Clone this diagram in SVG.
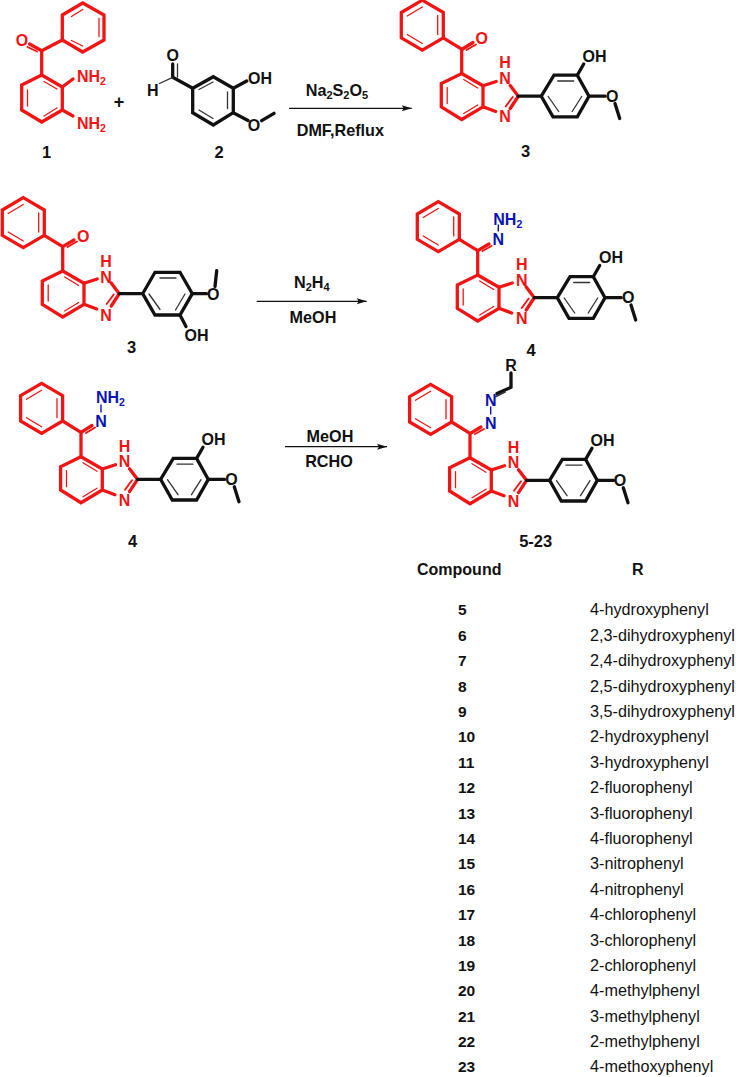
<svg xmlns="http://www.w3.org/2000/svg" width="736" height="1077" viewBox="0 0 736 1077">
<style>
text{font-family:"Liberation Sans",Arial,sans-serif;fill:#111}
.b{font-weight:700}
.at{font-weight:700;font-size:16px;text-anchor:middle}
.r{fill:#f01414}
.bl{fill:#0a14b4}
.lab{font-weight:700;font-size:16.5px;text-anchor:middle}
.rg{font-weight:700;font-size:16.2px}
.id{font-weight:700;font-size:15.5px}
.nm{font-size:16.2px}
.tr,.tk,.ti,.ki,.th,.bt{fill:none;stroke-linejoin:miter;stroke-linecap:round}
.tr{stroke:#f01414;stroke-width:3.3}
.tk{stroke:#111;stroke-width:3.3}
.ti{stroke:#f01414;stroke-width:1.3}
.ki{stroke:#333;stroke-width:1.3}
.th{stroke:#f01414;stroke-width:1.9}
.bt{stroke:#0a14b4;stroke-width:1.4}
.arr{stroke:#111;stroke-width:1.3;fill:none;marker-end:url(#ah)}
</style>
<defs>
<marker id="ah" markerUnits="userSpaceOnUse" markerWidth="12" markerHeight="8" refX="10" refY="3" orient="auto" overflow="visible"><path d="M0 0L10 3L0 6L2 3Z" fill="#111"/></marker>
<g id="phenyl">
<path class="tr" d="M-39.4-73.3L-18.4-61V-35.7L-39.4-23.3L-60.4-35.7V-61Z"/>
<path class="ti" d="M-39.4-66.5L-54.5-57.5M-24-58V-39M-39.4-30L-54.5-39"/>
</g>
<g id="core">
<use href="#phenyl"/>
<path class="tr" d="M-18.4-35.7L0-24.3V0"/>
<path class="tr" d="M0 0L21.3 12.3V33.3L0 46L-20.4 33.3V10Z"/>
<path class="ti" d="M2 6L16 14.5M-14.5 14V30M2 40L16 31.5"/>
<path class="tr" d="M21.3 12.3L34.5 8M48.5 12L56.6 22.7L48.5 35M34 38L21.3 33.3"/>
<path class="th" d="M44 33L51 23.5"/>
</g>
<g id="aryl">
<path class="tk" d="M56.6 22.7H79.6"/>
<path class="tk" d="M79.6 22.7L92.3 1.7H115.6L127.3 22.7L115.6 43.3H91.3Z"/>
<path class="ki" d="M96 7.5H112M120 23L110.5 38M97 38L86.5 23"/>
<path class="tk" d="M115.6 1.7L122 -9.5M127.3 22.7H143.5M153.3 30L158 45"/>
</g>
</defs>
<rect width="736" height="1077" fill="#fff"/>

<g id="connectors">
<path class="arr" d="M289 108.3H411.7"/>
<path class="arr" d="M256.7 301.3H366.7"/>
<path class="arr" d="M285 446.7H387"/>
</g>

<g id="compound-1">
<path class="tr" d="M82.7 3L104 15V40L82.7 52L62.3 40V15Z"/>
<path class="ti" d="M82.7 9.5L71.5 16.5M99 18.5V36.5M82.7 46L71.5 40.5"/>
<path class="tr" d="M62.3 40L41.7 50.7V75L62.3 87V110L41.7 122L21.7 110V85L41.7 75"/>
<path class="ti" d="M44 81.5L57 89M27.5 90V106M44 116L57 108"/>
<path class="tr" d="M41.7 50.7L29.5 44M62.3 87L73 79M62.3 110L73 116"/>
<path class="th" d="M37 51.5L27.5 47"/>
<text class="at r" x="22" y="46">O</text>
<text class="at r" x="77" y="82" style="text-anchor:start">NH<tspan font-size="10.5" dy="3">2</tspan></text>
<text class="at r" x="77" y="128.5" style="text-anchor:start">NH<tspan font-size="10.5" dy="3">2</tspan></text>
<text class="lab" x="46.7" y="158">1</text>
</g>

<g id="plus"><text class="b" font-size="18" text-anchor="middle" x="119" y="108">+</text></g>

<g id="compound-2">
<path class="tk" d="M192.7 88.3L213.3 76.7L233.3 88.3V112.7L213.3 125L192.7 112.7Z"/>
<path class="ki" d="M199 89.5L213 82M227.5 92V108.5M199 110L213 118.5"/>
<path class="tk" d="M192.7 88.3L172.7 77.3V64M233.3 88.3L246.7 81M233.3 112.7L248 120.5M261.7 120.7L274 113.3"/>
<path class="ki" d="M177.5 77V64"/>
<path class="ki" d="M172.7 77.3L159.5 83.5"/>
<text class="at" x="172.7" y="60.5">O</text>
<text class="at" x="152.7" y="96">H</text>
<text class="at" x="248" y="84" style="text-anchor:start">OH</text>
<text class="at" x="254" y="130.5">O</text>
<text class="lab" x="219" y="158">2</text>
</g>

<g id="reagents-1">
<text class="rg" x="305.7" y="96">Na<tspan font-size="11" dy="3">2</tspan><tspan dy="-3">S</tspan><tspan font-size="11" dy="3">2</tspan><tspan dy="-3">O</tspan><tspan font-size="11" dy="3">5</tspan></text>
<text class="rg" x="296.7" y="135.7">DMF,Reflux</text>
</g>

<g id="compound-3-top">
<use href="#core" x="461.7" y="73.5"/>
<use href="#aryl" x="461.7" y="73.5"/>
<path class="tr" d="M461.7 49.5L473 42.5"/>
<path class="th" d="M466.5 50L476 44.5"/>
<text class="at r" x="481.7" y="44">O</text>
<text class="at r" x="505" y="67.5">H</text>
<text class="at r" x="505" y="83.5">N</text>
<text class="at r" x="505" y="122">N</text>
<text class="at" x="582.5" y="61.5" style="text-anchor:start">OH</text>
<text class="at" x="612.3" y="101.5">O</text>
<text class="lab" x="525.7" y="156.7">3</text>
</g>

<g id="compound-3-mid">
<use href="#phenyl" x="62.7" y="271"/>
<path class="tr" d="M44.3 235.3L62.7 246.7V271L84 283.3V304.3L62.7 317L42.3 304.3V281L62.7 271"/>
<path class="ti" d="M64.7 277L78.7 285.5M48.2 285V301M64.7 311L78.7 302.5"/>
<path class="tr" d="M84 283.3L97.2 279M111.2 283L119.3 293.7L111.2 306M96.7 309L84 304.3"/>
<path class="th" d="M106.7 304L113.7 294.5"/>
<path class="tr" d="M62.7 246.7L74 240"/>
<path class="th" d="M67.5 247L77 241.5"/>
<path class="tk" d="M119.3 293.7H142.7L155 272.3H180L192.3 293.7L180 315H155L142.7 293.7"/>
<path class="ki" d="M160 278H176M185 294L175.5 310M160 309.5L149 294"/>
<path class="tk" d="M192.3 293.7H206.5M215 286.5L216.7 270.7M180 315L186 326.5"/>
<text class="at r" x="83.3" y="241.5">O</text>
<text class="at r" x="106" y="267">H</text>
<text class="at r" x="106" y="283">N</text>
<text class="at r" x="106" y="321">N</text>
<text class="at" x="213.3" y="299.5">O</text>
<text class="at" x="184.5" y="340.5" style="text-anchor:start">OH</text>
<text class="lab" x="131.7" y="353.3">3</text>
</g>

<g id="reagents-2">
<text class="rg" x="294" y="288">N<tspan font-size="11" dy="3">2</tspan><tspan dy="-3">H</tspan><tspan font-size="11" dy="3">4</tspan></text>
<text class="rg" x="313" y="322.7" text-anchor="middle">MeOH</text>
</g>

<g id="compound-4-right">
<use href="#core" x="477.7" y="275"/>
<use href="#aryl" x="477.7" y="275"/>
<path class="tr" d="M477.7 250.7L489 244"/>
<path class="th" d="M482.5 251L491.5 246"/>
<path class="bt" d="M498.3 225V231"/>
<text class="at bl" x="493.3" y="225" style="text-anchor:start">NH<tspan font-size="10.5" dy="3">2</tspan></text>
<text class="at bl" x="498.3" y="245">N</text>
<text class="at r" x="521.7" y="270">H</text>
<text class="at r" x="521.7" y="285.5">N</text>
<text class="at r" x="521.7" y="324">N</text>
<text class="at" x="599" y="263" style="text-anchor:start">OH</text>
<text class="at" x="628.3" y="303">O</text>
<text class="lab" x="531" y="355.7">4</text>
</g>

<g id="reagents-3">
<text class="rg" x="330" y="441.7" text-anchor="middle">MeOH</text>
<text class="rg" x="329" y="467.3" text-anchor="middle">RCHO</text>
</g>

<g id="compound-4-left">
<use href="#core" x="81" y="456.7"/>
<use href="#aryl" x="81" y="456.7"/>
<path class="tr" d="M81 432.3L92 425.5"/>
<path class="th" d="M86 433L95 427.5"/>
<path class="bt" d="M101 405V412"/>
<text class="at bl" x="96" y="403.3" style="text-anchor:start">NH<tspan font-size="10.5" dy="3">2</tspan></text>
<text class="at bl" x="101" y="427">N</text>
<text class="at r" x="124.5" y="451.5">H</text>
<text class="at r" x="124.5" y="467">N</text>
<text class="at r" x="124.5" y="505.5">N</text>
<text class="at" x="201.5" y="444.7" style="text-anchor:start">OH</text>
<text class="at" x="231.5" y="485">O</text>
<text class="lab" x="132.7" y="547.3">4</text>
</g>

<g id="compound-5-23">
<use href="#core" x="470" y="457.7"/>
<use href="#aryl" x="470" y="457.7"/>
<path class="tr" d="M470 433.7L481 427"/>
<path class="th" d="M475 434L484 429"/>
<path class="bt" d="M490.7 407V414"/>
<path class="tk" d="M511 373V387.3L497 393.5"/>
<path class="ki" d="M505 392L496 396.5" style="stroke-width:1.8"/>
<text class="at" x="511" y="370.5">R</text>
<text class="at bl" x="490.7" y="406">N</text>
<text class="at bl" x="490.7" y="429">N</text>
<text class="at r" x="513.5" y="452.5">H</text>
<text class="at r" x="513.5" y="468">N</text>
<text class="at r" x="513.5" y="506.5">N</text>
<text class="at" x="590.5" y="446" style="text-anchor:start">OH</text>
<text class="at" x="620" y="486">O</text>
<text class="lab" x="535.7" y="547.3">5-23</text>
</g>

<g id="table">
<text class="b" font-size="16" x="417" y="575">Compound</text>
<text class="b" font-size="16" x="632" y="575">R</text>
<text class="id" x="458" y="615.3">5</text><text class="nm" x="590" y="615.3">4-hydroxyphenyl</text>
<text class="id" x="458" y="640.7">6</text><text class="nm" x="590" y="640.7">2,3-dihydroxyphenyl</text>
<text class="id" x="458" y="666.1">7</text><text class="nm" x="590" y="666.1">2,4-dihydroxyphenyl</text>
<text class="id" x="458" y="691.5">8</text><text class="nm" x="590" y="691.5">2,5-dihydroxyphenyl</text>
<text class="id" x="458" y="716.9">9</text><text class="nm" x="590" y="716.9">3,5-dihydroxyphenyl</text>
<text class="id" x="458" y="742.3">10</text><text class="nm" x="590" y="742.3">2-hydroxyphenyl</text>
<text class="id" x="458" y="767.7">11</text><text class="nm" x="590" y="767.7">3-hydroxyphenyl</text>
<text class="id" x="458" y="793.1">12</text><text class="nm" x="590" y="793.1">2-fluorophenyl</text>
<text class="id" x="458" y="818.5">13</text><text class="nm" x="590" y="818.5">3-fluorophenyl</text>
<text class="id" x="458" y="843.9">14</text><text class="nm" x="590" y="843.9">4-fluorophenyl</text>
<text class="id" x="458" y="869.3">15</text><text class="nm" x="590" y="869.3">3-nitrophenyl</text>
<text class="id" x="458" y="894.7">16</text><text class="nm" x="590" y="894.7">4-nitrophenyl</text>
<text class="id" x="458" y="920.1">17</text><text class="nm" x="590" y="920.1">4-chlorophenyl</text>
<text class="id" x="458" y="945.5">18</text><text class="nm" x="590" y="945.5">3-chlorophenyl</text>
<text class="id" x="458" y="970.9">19</text><text class="nm" x="590" y="970.9">2-chlorophenyl</text>
<text class="id" x="458" y="996.3">20</text><text class="nm" x="590" y="996.3">4-methylphenyl</text>
<text class="id" x="458" y="1021.7">21</text><text class="nm" x="590" y="1021.7">3-methylphenyl</text>
<text class="id" x="458" y="1047.1">22</text><text class="nm" x="590" y="1047.1">2-methylphenyl</text>
<text class="id" x="458" y="1072.3">23</text><text class="nm" x="590" y="1072.3">4-methoxyphenyl</text>
</g>
</svg>
